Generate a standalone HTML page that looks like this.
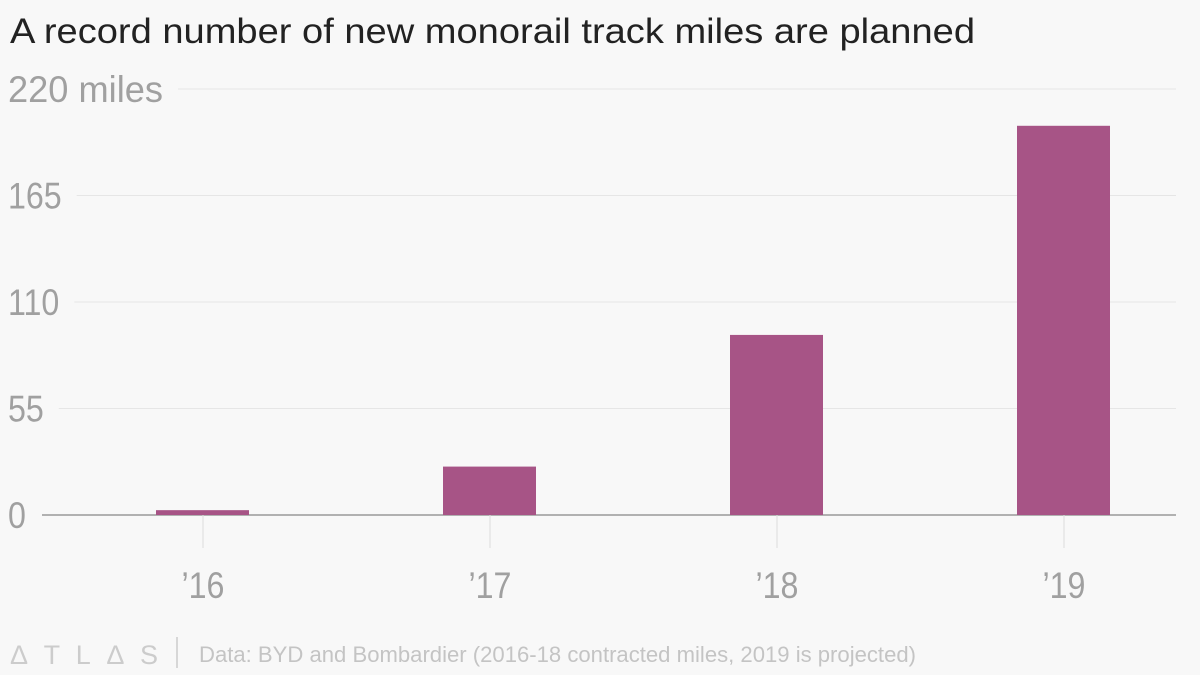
<!DOCTYPE html>
<html><head><meta charset="utf-8"><style>
body{margin:0;background:#f8f8f8;font-family:"Liberation Sans",sans-serif;}
svg{display:block}
</style></head><body>
<svg width="1200" height="675">
<rect width="1200" height="675" fill="#f8f8f8"/>
<text x="10" y="43" font-size="35" fill="#222" textLength="965" lengthAdjust="spacingAndGlyphs">A record number of new monorail track miles are planned</text>
<g id="grid"></g><g id="bars"></g><g id="xaxis"></g>
<g>
<text x="10" y="664" font-size="27" fill="#ccc" textLength="148" lengthAdjust="spacing">ΔTLΔS</text>
<line x1="177" y1="637" x2="177" y2="668" stroke="#ccc" stroke-width="1.5"/>
<text x="199" y="662" font-size="22" fill="#c4c4c4" textLength="717" lengthAdjust="spacingAndGlyphs">Data: BYD and Bombardier (2016-18 contracted miles, 2019 is projected)</text>
</g>
</svg>
<script>
const categories=["’16","’17","’18","’19"];
const values=[2.5,25,93,201];
const yTicks=[0,55,110,165,220];
const yTickLabels=["0","55","110","165","220 miles"];
const ns="http://www.w3.org/2000/svg";
const y0=515,y1=89,yMax=220;
function y(v){return y0-(v/yMax)*(y0-y1);}
function x(i){return 203+i*287;}
function mk(t,a,p){const e=document.createElementNS(ns,t);for(const k in a)e.setAttribute(k,a[k]);p.appendChild(e);return e;}
const grid=document.getElementById('grid');
yTicks.forEach((t,i)=>{
  const lbl=mk('text',{x:8,y:y(t)+13,'font-size':37,fill:'#a0a0a0'},grid);
  lbl.textContent=yTickLabels[i];
  
  
  const last=i===yTicks.length-1;
  const w=last?155:lbl.getComputedTextLength()*0.87;
  lbl.setAttribute('textLength',w);
  lbl.setAttribute('lengthAdjust','spacingAndGlyphs');
  const gx=t===0?42:8+w+15;
  const ln=mk('line',{x1:gx,x2:1176,y1:y(t),y2:y(t),stroke:t===0?'#999':'#e6e6e6','stroke-width':t===0?1.5:1},grid);
  
  
});
const bars=document.getElementById('bars'),xa=document.getElementById('xaxis');
categories.forEach((c,i)=>{
  const tk=mk('line',{x1:x(i),x2:x(i),y1:y0,y2:548,stroke:'#ddd'},xa);
  
  
  const b=mk('rect',{x:x(i)-47,width:93,y:y(values[i]),height:y0-y(values[i]),fill:'#a75486'},bars);
  
  
  const t=mk('text',{x:x(i),y:598,'font-size':37,fill:'#a0a0a0','text-anchor':'middle'},xa);
  t.textContent=c;
  
  
  t.setAttribute('textLength',t.getComputedTextLength()*0.87);
  t.setAttribute('lengthAdjust','spacingAndGlyphs');
});
</script>
</body></html>
